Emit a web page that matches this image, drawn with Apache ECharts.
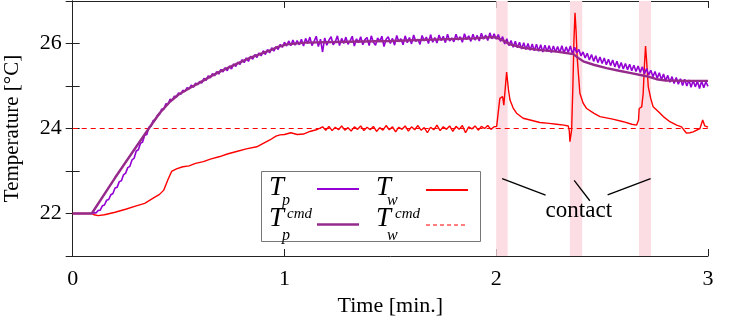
<!DOCTYPE html>
<html>
<head>
<meta charset="utf-8">
<script src="https://cdn.jsdelivr.net/npm/echarts@6/dist/echarts.min.js"></script>
<style>
html, body { margin: 0; padding: 0; background: #fff; }
#chart { width: 732px; height: 322px; }
</style>
</head>
<body>
<div id="chart"></div>
<script>
// measured platen temperature, sampled every 0.01 min from 0.09 min
const tpStart = 0.09
const tpStep = 0.01
const tpValues = [
    22.00, 22.02, 22.01, 22.07, 22.08, 22.18, 22.20, 22.31, 22.33, 22.44,
    22.47, 22.60, 22.62, 22.75, 22.77, 22.91, 22.95, 23.08, 23.11, 23.26,
    23.30, 23.47, 23.50, 23.65, 23.68, 23.84, 23.86, 24.03, 24.05, 24.19,
    24.20, 24.31, 24.33, 24.46, 24.45, 24.58, 24.57, 24.69, 24.66, 24.76,
    24.74, 24.84, 24.80, 24.90, 24.87, 24.96, 24.93, 25.02, 24.97, 25.07,
    25.03, 25.11, 25.07, 25.18, 25.13, 25.24, 25.19, 25.29, 25.24, 25.34,
    25.28, 25.39, 25.33, 25.43, 25.36, 25.47, 25.40, 25.52, 25.46, 25.56,
    25.51, 25.62, 25.55, 25.66, 25.58, 25.70, 25.63, 25.74, 25.67, 25.78,
    25.71, 25.83, 25.74, 25.86, 25.78, 25.90, 25.82, 25.93, 25.86, 25.98,
    25.91, 26.03, 25.94, 26.06, 25.95, 26.08, 25.96, 26.07, 25.97, 26.10,
    25.94, 26.12, 26.00, 26.15, 25.95, 26.05, 26.17, 25.93, 26.10, 25.80,
    26.13, 25.96, 26.08, 26.16, 25.97, 26.04, 26.18, 25.95, 26.12, 26.00,
    26.15, 25.98, 26.06, 26.17, 25.94, 26.11, 26.02, 26.16, 25.97, 26.09,
    26.14, 25.95, 26.18, 26.03, 25.96, 26.13, 26.05, 26.17, 25.93, 26.10,
    26.16, 26.00, 26.12, 25.96, 26.19, 26.04, 26.11, 25.97, 26.18, 26.02,
    26.14, 25.99, 26.20, 26.05, 26.10, 25.98, 26.19, 26.06, 26.15, 26.00,
    26.21, 26.03, 26.14, 26.01, 26.20, 26.07, 26.17, 26.02, 26.22, 26.06,
    26.13, 26.04, 26.22, 26.08, 26.16, 26.03, 26.23, 26.09, 26.18, 26.05,
    26.22, 26.08, 26.19, 26.06, 26.24, 26.10, 26.20, 26.07, 26.25, 26.11,
    26.23, 26.10, 26.21, 26.05, 26.16, 25.99, 26.11, 25.95, 26.07, 25.91,
    26.05, 25.90, 26.03, 25.87, 26.02, 25.86, 26.00, 25.84, 25.99, 25.83,
    25.98, 25.82, 25.97, 25.80, 25.96, 25.81, 25.95, 25.79, 25.94, 25.80,
    25.93, 25.78, 25.95, 25.77, 25.92, 25.79, 25.94, 25.76, 25.91, 25.78,
    25.86, 25.71, 25.80, 25.66, 25.77, 25.61, 25.74, 25.58, 25.71, 25.55,
    25.68, 25.53, 25.66, 25.50, 25.63, 25.48, 25.61, 25.45, 25.58, 25.42,
    25.55, 25.40, 25.53, 25.38, 25.51, 25.36, 25.49, 25.34, 25.47, 25.32,
    25.45, 25.29, 25.41, 25.26, 25.37, 25.22, 25.34, 25.18, 25.31, 25.15,
    25.28, 25.12, 25.25, 25.09, 25.22, 25.06, 25.20, 25.04, 25.17, 25.01,
    25.16, 25.00, 25.14, 24.97, 25.13, 24.98, 25.11, 24.94, 25.12, 24.96,
    25.10, 24.99
]

// commanded platen temperature [min, degC]
const tpCmd = [
    [0, 22], [0.09, 22], [0.2, 22.84], [0.3, 23.57], [0.365, 24.04], [0.41, 24.36],
    [0.459, 24.63], [0.5, 24.8], [0.555, 24.96], [0.6, 25.08], [0.649, 25.22],
    [0.7, 25.35], [0.743, 25.45], [0.8, 25.58], [0.837, 25.66], [0.9, 25.78],
    [0.932, 25.84], [0.97, 25.92], [1.01, 25.98], [1.1, 26.02], [1.3, 26.04],
    [1.5, 26.06], [1.7, 26.09], [1.9, 26.12], [1.97, 26.15], [2.0, 26.14],
    [2.03, 26.08], [2.065, 25.98], [2.127, 25.9], [2.2, 25.85], [2.285, 25.81],
    [2.364, 25.75], [2.39, 25.65], [2.411, 25.58], [2.46, 25.5], [2.521, 25.42],
    [2.58, 25.36], [2.631, 25.31], [2.71, 25.23], [2.757, 25.16], [2.8, 25.13],
    [2.9, 25.12], [3.0, 25.12]
]

// measured workpiece temperature [min, degC]
const tw = [
    [0, 22], [0.09, 22], [0.1, 21.97], [0.12, 21.95], [0.15, 21.97], [0.2, 22.03],
    [0.25, 22.1], [0.3, 22.18], [0.34, 22.24], [0.38, 22.36], [0.41, 22.45],
    [0.43, 22.55], [0.45, 22.8], [0.467, 22.99], [0.49, 23.05], [0.52, 23.1],
    [0.55, 23.12], [0.58, 23.18], [0.617, 23.22], [0.65, 23.28], [0.695, 23.34],
    [0.73, 23.4], [0.774, 23.46], [0.82, 23.52], [0.869, 23.57], [0.9, 23.65],
    [0.931, 23.73], [0.96, 23.82], [0.979, 23.85], [1.0, 23.86], [1.03, 23.9],
    [1.06, 23.86], [1.09, 23.87], [1.12, 23.93], [1.15, 23.97], [1.168, 24.01],
    [1.18, 24.04], [1.195, 23.96], [1.21, 24.05], [1.225, 23.95], [1.24, 24.03],
    [1.255, 23.97], [1.27, 24.06], [1.285, 23.96], [1.3, 24.02], [1.315, 23.94],
    [1.33, 24.04], [1.345, 23.98], [1.36, 24.06], [1.375, 23.95], [1.39, 24.03],
    [1.405, 23.97], [1.42, 24.05], [1.435, 23.93], [1.45, 24.02], [1.465, 23.96],
    [1.48, 24.07], [1.495, 23.97], [1.51, 24.04], [1.525, 23.92], [1.54, 24.03],
    [1.555, 23.98], [1.57, 24.06], [1.585, 23.94], [1.6, 24.04], [1.615, 23.97],
    [1.63, 24.07], [1.645, 23.96], [1.66, 24.02], [1.675, 23.9], [1.69, 24.03],
    [1.705, 23.97], [1.72, 24.08], [1.735, 23.95], [1.75, 24.04], [1.765, 23.98],
    [1.78, 24.06], [1.795, 23.93], [1.81, 24.05], [1.825, 23.98], [1.84, 24.07],
    [1.855, 23.9], [1.87, 24.04], [1.885, 23.99], [1.9, 24.06], [1.915, 23.96],
    [1.93, 24.05], [1.945, 24.0], [1.96, 24.07], [1.975, 23.98], [1.99, 24.04],
    [2.002, 24.05], [2.017, 24.71], [2.03, 24.75], [2.036, 24.55], [2.049, 25.33],
    [2.058, 24.9], [2.065, 24.67], [2.08, 24.48], [2.096, 24.36], [2.127, 24.24],
    [2.16, 24.2], [2.206, 24.14], [2.25, 24.12], [2.285, 24.1], [2.32, 24.08],
    [2.34, 24.06], [2.345, 23.95], [2.348, 23.69], [2.356, 23.96], [2.362, 25.0],
    [2.367, 26.08], [2.372, 26.72], [2.377, 26.3], [2.382, 25.69], [2.395, 24.83],
    [2.41, 24.6], [2.427, 24.47], [2.46, 24.36], [2.49, 24.28], [2.55, 24.22],
    [2.6, 24.16], [2.64, 24.1], [2.663, 24.08], [2.672, 24.2], [2.675, 24.47],
    [2.687, 24.51], [2.694, 24.83], [2.7, 25.5], [2.705, 25.94], [2.71, 25.6],
    [2.718, 24.98], [2.73, 24.7], [2.741, 24.51], [2.765, 24.4], [2.789, 24.28],
    [2.82, 24.16], [2.852, 24.08], [2.875, 24.04], [2.887, 23.96], [2.899, 23.89],
    [2.915, 23.9], [2.93, 23.92], [2.962, 24.0], [2.975, 24.2], [2.985, 24.06],
    [3.0, 24.03]
]

// commanded workpiece temperature
const twCmd = [[0, 24], [3, 24]]

// contact intervals [min]
const contactBands = [[2.0, 2.054], [2.348, 2.406], [2.674, 2.731]]
// pointer lines from the "contact" label to the bands
const contactPointers = [
    [[2.028, 22.82], [2.233, 22.43]],
    [[2.368, 22.78], [2.442, 22.30]],
    [[2.526, 22.44], [2.729, 22.82]]
]
const contactLabelAt = [2.39, 22.05]

const xTicks = { min: 0, max: 3, interval: 1 }
const yTicks = { min: 21, max: 27, interval: 1 }

const serif = '"Liberation Serif", "DejaVu Serif", serif'
const tpColor = '#9400d3'
const tpCmdColor = '#962a8c'
const twColor = '#ff0000'

const tp = tpValues.map((v, i) => [+(tpStart + i * tpStep).toFixed(2), v])

const chart = echarts.init(document.getElementById('chart'))

const hiddenAxis = {
    axisLabel: { show: false },
    axisTick: { show: true, inside: true, length: 7, lineStyle: { color: '#222' } },
    axisLine: { show: true, lineStyle: { color: '#222' } },
    splitLine: { show: false }
}

const txt = (text, x, y, size, italic) => ({
    type: 'text', x: x, y: y, z: 101, silent: true,
    style: {
        text: text, fill: '#000',
        font: (italic ? 'italic ' : '') + size + 'px ' + serif,
        align: 'left', verticalAlign: 'middle',
        textAlign: 'left', textVerticalAlign: 'middle'
    }
})
const seg = (x1, x2, y, color, width, dash) => ({
    type: 'line', z: 101, silent: true,
    shape: { x1: x1, y1: y, x2: x2, y2: y },
    style: { stroke: color, lineWidth: width, lineDash: dash || null }
})

chart.setOption({
    animation: false,
    grid: { left: 72.7, right: 24, top: 1, bottom: 66, containLabel: false, outerBoundsMode: 'none' },
    xAxis: [
        {
            type: 'value', min: xTicks.min, max: xTicks.max, interval: xTicks.interval,
            name: 'Time [min.]', nameLocation: 'middle', nameGap: 36,
            nameTextStyle: { fontFamily: serif, fontSize: 22, color: '#000' },
            axisLabel: { fontFamily: serif, fontSize: 22, color: '#000', margin: 12 },
            axisTick: { inside: true, length: 7, lineStyle: { color: '#222' } },
            axisLine: { lineStyle: { color: '#222' } },
            splitLine: { show: false }
        },
        Object.assign({ type: 'value', position: 'top', min: xTicks.min, max: xTicks.max, interval: xTicks.interval }, hiddenAxis)
    ],
    yAxis: [
        {
            type: 'value', min: yTicks.min, max: yTicks.max, interval: yTicks.interval,
            name: 'Temperature [°C]', nameLocation: 'middle', nameGap: 50,
            nameTextStyle: { fontFamily: serif, fontSize: 21, color: '#000' },
            axisLabel: {
                fontFamily: serif, fontSize: 22, color: '#000', margin: 11,
                formatter: v => (v % 2 === 0 ? String(v) : '')
            },
            axisTick: { inside: true, length: 7, lineStyle: { color: '#222' } },
            axisLine: { show: true, lineStyle: { color: '#222' } },
            splitLine: { show: false }
        },
        Object.assign({ type: 'value', position: 'right', min: yTicks.min, max: yTicks.max, interval: yTicks.interval }, hiddenAxis)
    ],
    series: [
        {
            name: 'contact', type: 'line', data: [], z: 1,
            markArea: {
                silent: true,
                itemStyle: { color: '#fcdde3' },
                data: contactBands.map(b => [{ xAxis: b[0] }, { xAxis: b[1] }])
            },
            markLine: {
                silent: true, symbol: ['none', 'none'],
                label: { show: false },
                lineStyle: { color: '#000', width: 1.3, type: 'solid' },
                data: contactPointers.map(p => [{ coord: p[0] }, { coord: p[1] }])
            },
            markPoint: {
                silent: true,
                data: [{ coord: contactLabelAt, symbol: 'circle', symbolSize: 1 }],
                itemStyle: { color: 'rgba(0,0,0,0)' },
                label: {
                    show: true, position: 'inside', formatter: 'contact',
                    fontFamily: serif, fontSize: 23, color: '#000'
                }
            }
        },
        {
            name: 'Tw cmd', type: 'line', data: twCmd, showSymbol: false,
            lineStyle: { color: twColor, width: 1.2, type: [5, 4] }
        },
        {
            name: 'Tw', type: 'line', data: tw, showSymbol: false,
            lineStyle: { color: twColor, width: 1.4 }
        },
        {
            name: 'Tp', type: 'line', data: tp, showSymbol: false,
            lineStyle: { color: tpColor, width: 1.6 }
        },
        {
            name: 'Tp cmd', type: 'line', data: tpCmd, showSymbol: false,
            lineStyle: { color: tpCmdColor, width: 2.4 }
        }
    ],
    graphic: [
        {
            type: 'rect', silent: true, z: 100,
            shape: { x: 261.5, y: 171.5, width: 219, height: 70 },
            style: { fill: '#fff', stroke: '#777', lineWidth: 1 }
        },
        txt('T', 269, 188, 27, true), txt('p', 282, 201, 16, true),
        seg(317, 359, 189, tpColor, 2),
        txt('T', 376, 188, 27, true), txt('w', 387, 201, 16, true),
        seg(426, 468, 190, twColor, 2),
        txt('T', 269, 219, 27, true), txt('cmd', 287, 214, 15, true), txt('p', 282, 236, 16, true),
        seg(317, 359, 224.5, tpCmdColor, 2.4),
        txt('T', 376, 219, 27, true), txt('cmd', 395, 214, 15, true), txt('w', 387, 236, 16, true),
        seg(426, 468, 225, twColor, 1.2, [4, 3])
    ]
})
</script>
</body>
</html>
